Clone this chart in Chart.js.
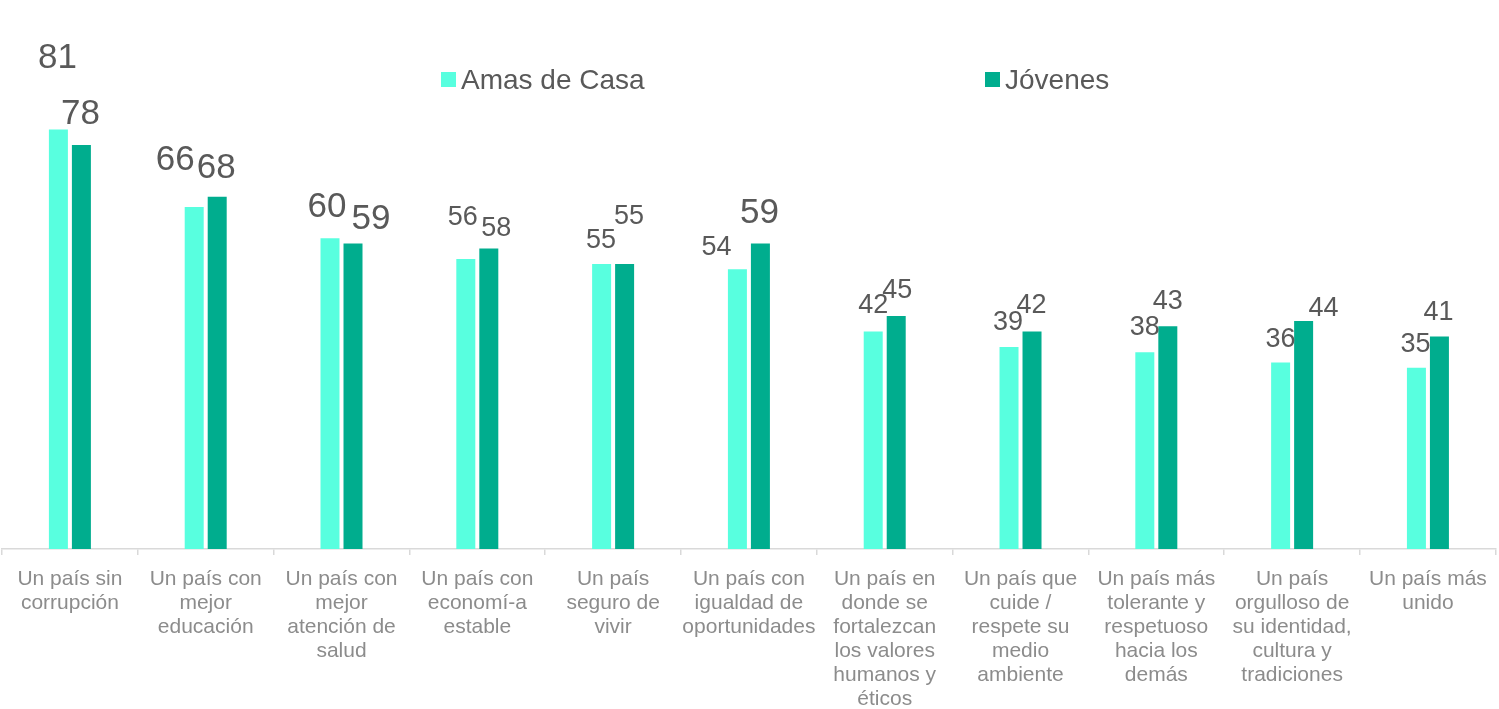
<!DOCTYPE html>
<html>
<head>
<meta charset="utf-8">
<script src="https://cdn.jsdelivr.net/npm/chart.js@4/dist/chart.umd.min.js"></script>
<style>
  html, body { margin: 0; padding: 0; background: #fff; }
  #wrap { width: 1499px; height: 709px; position: relative; }
</style>
</head>
<body>
<div id="wrap"><canvas id="barChart"></canvas></div>
<script>
  'use strict';
  var categories = [
    ["Un país sin", "corrupción"],
    ["Un país con", "mejor", "educación"],
    ["Un país con", "mejor", "atención de", "salud"],
    ["Un país con", "economí-a", "estable"],
    ["Un país", "seguro de", "vivir"],
    ["Un país con", "igualdad de", "oportunidades"],
    ["Un país en", "donde se", "fortalezcan", "los valores", "humanos y", "éticos"],
    ["Un país que", "cuide /", "respete su", "medio", "ambiente"],
    ["Un país más", "tolerante y", "respetuoso", "hacia los", "demás"],
    ["Un país", "orgulloso de", "su identidad,", "cultura y", "tradiciones"],
    ["Un país más", "unido"]
  ];
  var amasDeCasa = [81, 66, 60, 56, 55, 54, 42, 39, 38, 36, 35];
  var jovenes = [78, 68, 59, 58, 55, 59, 45, 42, 43, 44, 41];

  // value label placement: [shift x, lift above bar top, big font?]
  var amasLabelPos = [[-1, 61, 1], [-19, 37, 1], [-3, 21, 1], [-3, 34, 0], [-0.5, 16, 0], [-21, 14, 0],
                      [0, 18, 0], [-1, 17, 0], [0, 17, 0], [0, 16, 0], [-1, 16, 0]];
  var jovenesLabelPos = [[-1, 21, 1], [-1, 19, 1], [18, 14, 1], [7.5, 13, 0], [4.5, 40, 0], [-1, 20, 1],
                         [1, 18, 0], [-0.5, 18, 0], [0, 17, 0], [20, 5, 0], [-1, 17, 0]];

  var lightColor = '#58FFDF';
  var darkColor = '#00AD8E';
  var fontFamily = '"Liberation Sans", Arial, sans-serif';

  var valueLabels = {
    id: 'valueLabels',
    afterDatasetsDraw: function(chart) {
      var ctx = chart.ctx;
      var placements = [amasLabelPos, jovenesLabelPos];
      ctx.save();
      ctx.fillStyle = '#595959';
      ctx.textAlign = 'center';
      ctx.textBaseline = 'alphabetic';
      chart.data.datasets.forEach(function(ds, di) {
        var meta = chart.getDatasetMeta(di);
        meta.data.forEach(function(bar, i) {
          var p = placements[di][i];
          ctx.font = (p[2] ? 35 : 27) + 'px ' + fontFamily;
          ctx.fillText(String(ds.data[i]), bar.x + p[0], bar.y - p[1]);
        });
      });
      ctx.restore();
    }
  };

  // legend spread wide across the top
  var wideLegend = {
    id: 'wideLegend',
    afterDraw: function(chart) {
      var ctx = chart.ctx;
      var spots = [441, 985];
      ctx.save();
      ctx.font = '28px ' + fontFamily;
      ctx.textBaseline = 'alphabetic';
      ctx.textAlign = 'left';
      chart.data.datasets.forEach(function(ds, di) {
        ctx.fillStyle = ds.backgroundColor;
        ctx.fillRect(spots[di], 72, 15, 15);
        ctx.fillStyle = '#595959';
        ctx.fillText(ds.label, spots[di] + 20, 89);
      });
      ctx.restore();
    }
  };

  var ctx = document.getElementById('barChart').getContext('2d');
  var barChart = new Chart(ctx, {
    type: 'bar',
    data: {
      labels: categories,
      datasets: [{
        label: 'Amas de Casa',
        data: amasDeCasa,
        backgroundColor: lightColor,
        categoryPercentage: 0.3387,
        barPercentage: 0.826
      }, {
        label: 'Jóvenes',
        data: jovenes,
        backgroundColor: darkColor,
        categoryPercentage: 0.3387,
        barPercentage: 0.826
      }]
    },
    options: {
      responsive: true,
      maintainAspectRatio: false,
      animation: false,
      layout: {
        padding: { top: 31, left: 2, right: 3, bottom: 0 }
      },
      plugins: {
        legend: { display: false },
        tooltip: { enabled: false }
      },
      scales: {
        x: {
          afterFit: function(scale) { scale.height = 160; },
          border: { color: '#D9D9D9', width: 1.5 },
          grid: {
            offset: true,
            drawOnChartArea: false,
            drawTicks: true,
            tickLength: 6,
            color: '#D9D9D9',
            lineWidth: 1.5
          },
          ticks: {
            color: '#8C8C8C',
            padding: 12,
            maxRotation: 0,
            autoSkip: false,
            font: { family: fontFamily, size: 21, lineHeight: 1.143 }
          }
        },
        y: {
          display: false,
          min: 0,
          max: 100
        }
      }
    },
    plugins: [valueLabels, wideLegend]
  });
</script>
</body>
</html>
